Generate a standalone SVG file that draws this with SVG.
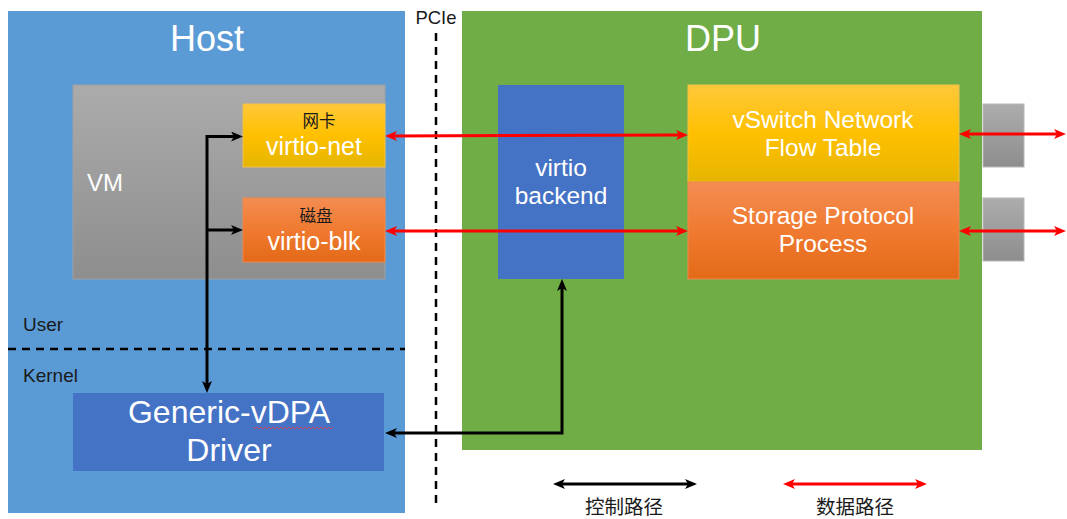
<svg xmlns="http://www.w3.org/2000/svg" width="1067" height="519" viewBox="0 0 1067 519">
<defs>
<linearGradient id="gGray" x1="0" y1="0" x2="0" y2="1"><stop offset="0" stop-color="#ABABAB"/><stop offset="1" stop-color="#8E8E8E"/></linearGradient>
<linearGradient id="gYel" x1="0" y1="0" x2="0" y2="1"><stop offset="0" stop-color="#FFC83A"/><stop offset="0.5" stop-color="#FFC000"/><stop offset="1" stop-color="#E5B500"/></linearGradient>
<linearGradient id="gOra" x1="0" y1="0" x2="0" y2="1"><stop offset="0" stop-color="#F38D52"/><stop offset="0.5" stop-color="#F07A30"/><stop offset="1" stop-color="#E26A18"/></linearGradient>
<linearGradient id="gPort" x1="0" y1="0" x2="0" y2="1"><stop offset="0" stop-color="#ADADAD"/><stop offset="1" stop-color="#8D8D8D"/></linearGradient>
<marker id="aK" viewBox="0 0 12 10" refX="7" refY="5" markerWidth="12" markerHeight="10" markerUnits="userSpaceOnUse" orient="auto-start-reverse"><path d="M0,0 L12,5 L0,10 L3,5 z" fill="#000"/></marker>
<marker id="aR" viewBox="0 0 12 10" refX="7" refY="5" markerWidth="12" markerHeight="10" markerUnits="userSpaceOnUse" orient="auto-start-reverse"><path d="M0,0 L12,5 L0,10 L3,5 z" fill="#FF0000"/></marker>
</defs>
<style>
text{font-family:"Liberation Sans","Noto Sans CJK SC",sans-serif;}
.w{fill:#fff;}
.k{fill:#1a1a1a;}
.cjk{font-family:"Noto Sans CJK SC","Liberation Sans",sans-serif;}
.ctl{stroke:#000;stroke-width:3;fill:none;}
.dat{stroke:#FF0000;stroke-width:3;fill:none;}
.dash{stroke:#000;stroke-width:2.5;stroke-dasharray:8 6;fill:none;}
</style>
<rect width="1067" height="519" fill="#fff"/>

<g id="host">
<rect x="8" y="11" width="397" height="502" fill="#5B9BD5"/>
<text x="207" y="51" font-size="36" text-anchor="middle" class="w">Host</text>
<text x="23" y="331" font-size="19" class="k">User</text>
<text x="23" y="382" font-size="19" class="k">Kernel</text>
</g>
<g id="user-kernel-line"><line x1="8" y1="349" x2="405" y2="349" class="dash"/></g>

<g id="pcie">
<text x="436" y="24" font-size="18.5" text-anchor="middle" class="k">PCIe</text>
<line x1="436" y1="33" x2="436" y2="507" class="dash"/>
</g>

<g id="dpu">
<rect x="462" y="11" width="520" height="439" fill="#70AD47"/>
<text x="723" y="51" font-size="36" text-anchor="middle" class="w">DPU</text>
</g>

<g id="vm">
<rect x="73" y="85" width="312" height="194" fill="url(#gGray)" stroke="#A0A0A0" stroke-width="1"/>
<text x="87" y="191" font-size="24" class="w">VM</text>
</g>

<g id="virtio-net">
<rect x="243" y="104" width="142" height="63" fill="url(#gYel)" stroke="#F2C14A" stroke-width="1"/>
<text x="319" y="127" font-size="16.5" text-anchor="middle" class="k cjk">网卡</text>
<text x="314" y="155" font-size="25" text-anchor="middle" class="w">virtio-net</text>
</g>

<g id="virtio-blk">
<rect x="243" y="198" width="142" height="64" fill="url(#gOra)" stroke="#F0884A" stroke-width="1"/>
<text x="316" y="222" font-size="16.5" text-anchor="middle" class="k cjk">磁盘</text>
<text x="314" y="250" font-size="25" text-anchor="middle" class="w">virtio-blk</text>
</g>

<g id="generic-vdpa">
<rect x="73" y="393" width="311" height="78" fill="#4472C4"/>
<text x="229" y="423" font-size="32" text-anchor="middle" class="w">Generic-vDPA</text>
<path d="M253,427 l2,2 l2,-2 l2,2 l2,-2 l2,2 l2,-2 l2,2 l2,-2 l2,2 l2,-2 l2,2 l2,-2 l2,2 l2,-2 l2,2 l2,-2 l2,2 l2,-2 l2,2 l2,-2 l2,2 l2,-2 l2,2 l2,-2 l2,2 l2,-2 l2,2 l2,-2 l2,2 l2,-2 l2,2 l2,-2 l2,2 l2,-2 l2,2 l2,-2 l2,2 l2,-2 l2,2 l2,-2" stroke="#E04050" stroke-width="0.8" fill="none"/>
<text x="229" y="461" font-size="32" text-anchor="middle" class="w">Driver</text>
</g>

<g id="virtio-backend">
<rect x="498" y="85" width="126" height="194" fill="#4472C4"/>
<text x="561" y="176" font-size="24.5" text-anchor="middle" class="w">virtio</text>
<text x="561" y="204" font-size="24.5" text-anchor="middle" class="w">backend</text>
</g>

<g id="vswitch">
<rect x="688" y="85" width="271" height="97" fill="url(#gYel)" stroke="#F2C14A" stroke-width="1"/>
<text x="823" y="128" font-size="24.5" text-anchor="middle" class="w">vSwitch Network</text>
<text x="823" y="156" font-size="24.5" text-anchor="middle" class="w">Flow Table</text>
</g>

<g id="storage">
<rect x="688" y="182" width="271" height="97" fill="url(#gOra)" stroke="#F0884A" stroke-width="1"/>
<text x="823" y="224" font-size="24.5" text-anchor="middle" class="w">Storage Protocol</text>
<text x="823" y="252" font-size="24.5" text-anchor="middle" class="w">Process</text>
</g>

<g id="ports">
<rect x="983" y="104" width="41" height="63" fill="url(#gPort)" stroke="#B8B8B8" stroke-width="1"/>
<rect x="983" y="198" width="41" height="63" fill="url(#gPort)" stroke="#B8B8B8" stroke-width="1"/>
</g>

<g id="connectors">
<line x1="390" y1="136" x2="683" y2="135" class="dat" marker-start="url(#aR)" marker-end="url(#aR)"/>
<line x1="390" y1="231" x2="683" y2="231" class="dat" marker-start="url(#aR)" marker-end="url(#aR)"/>
<line x1="964" y1="134" x2="1061" y2="134" class="dat" marker-start="url(#aR)" marker-end="url(#aR)"/>
<line x1="964" y1="231" x2="1061" y2="231" class="dat" marker-start="url(#aR)" marker-end="url(#aR)"/>
<path d="M238,136.5 H207 V388" class="ctl" marker-start="url(#aK)" marker-end="url(#aK)"/>
<path d="M207,230 H238" class="ctl" marker-end="url(#aK)"/>
<path d="M562,284 V433 H390" class="ctl" marker-start="url(#aK)" marker-end="url(#aK)"/>
</g>

<g id="legend">
<line x1="558" y1="484" x2="692" y2="484" class="ctl" marker-start="url(#aK)" marker-end="url(#aK)"/>
<text x="624" y="514" font-size="19.5" text-anchor="middle" class="k cjk">控制路径</text>
<line x1="788" y1="484" x2="922" y2="484" class="dat" marker-start="url(#aR)" marker-end="url(#aR)"/>
<text x="855" y="514" font-size="19.5" text-anchor="middle" class="k cjk">数据路径</text>
</g>
</svg>
